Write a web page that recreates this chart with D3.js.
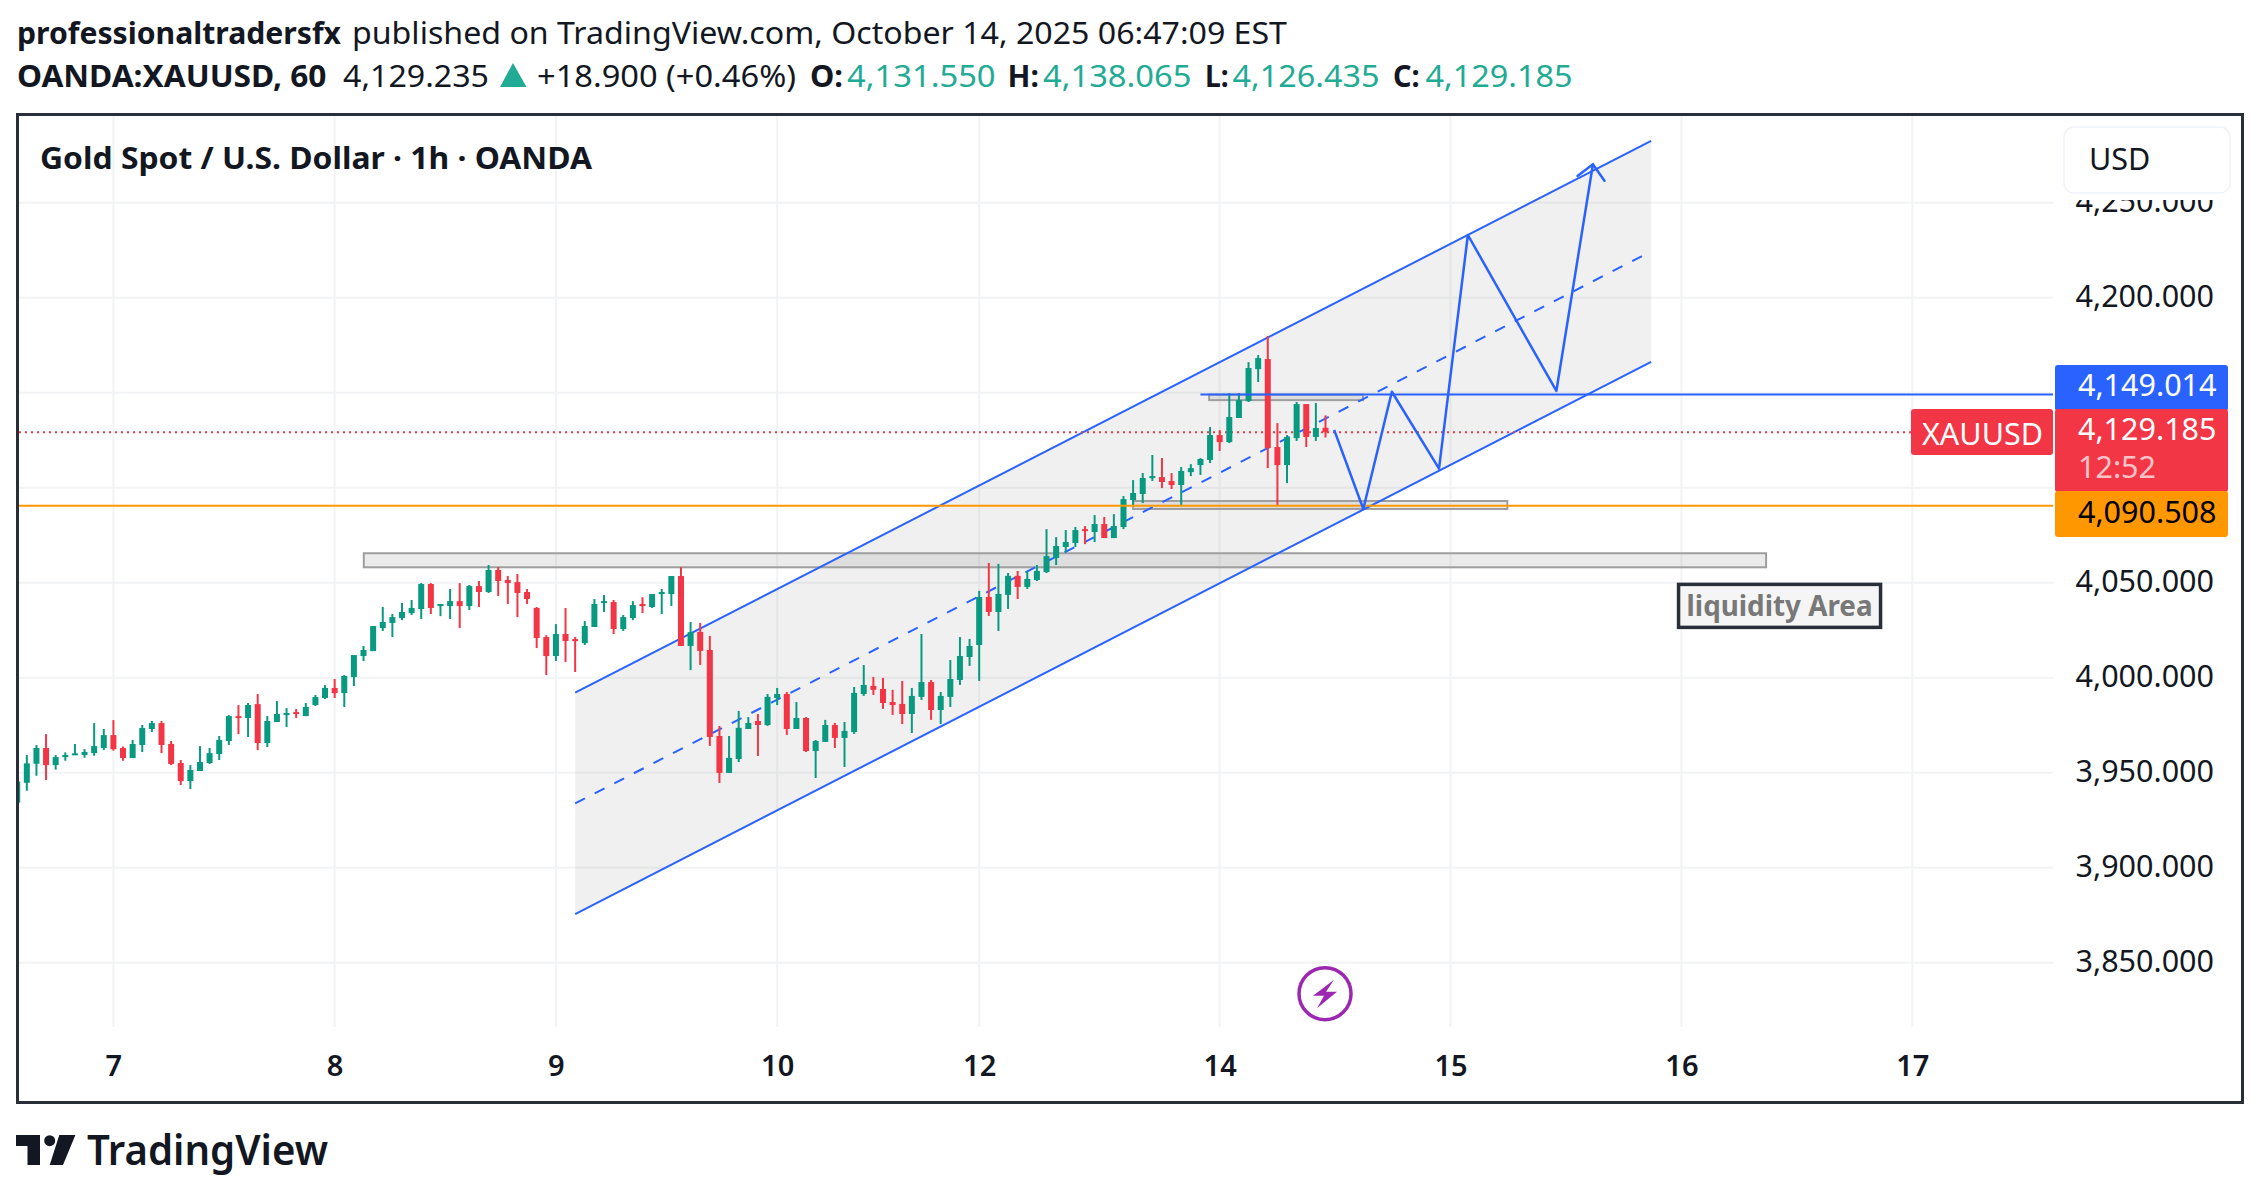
<!doctype html>
<html>
<head>
<meta charset="utf-8">
<title>XAUUSD</title>
<style>
    html, body { margin: 0; padding: 0; background: #fff; }
    svg { display: block; }
    text { font-family: "Noto Sans", sans-serif; }
</style>
</head>
<body>
<div id="main"></div>
<script src="https://cdn.jsdelivr.net/npm/d3@7"></script>
<script>
// hourly candles
const opens = [3934.2,3944.7,3954.7,3963.0,3954.0,3958.2,3959.3,3959.3,3960.3,3963.0,
3969.8,3963.0,3957.7,3964.6,3973.0,3976.1,3965.1,3955.1,3945.6,3950.9,
3955.1,3959.8,3966.7,3979.8,3978.8,3986.1,3965.6,3976.7,3980.3,3981.9,
3979.8,3985.6,3989.3,3994.6,3991.9,4000.3,4011.4,4014.0,4026.1,4028.8,
4031.4,4034.0,4036.1,4049.3,4037.7,4037.7,4040.3,4037.7,4048.2,4045.1,
4056.7,4051.4,4050.3,4045.1,4036.7,4021.4,4011.4,4023.0,4020.3,4018.2,
4026.7,4039.3,4039.8,4025.6,4031.4,4038.8,4037.2,4044.0,4044.0,4053.5,
4016.7,4024.1,4014.6,3969.3,3949.9,3957.2,3973.0,3977.2,3975.1,3989.3,
3991.4,3973.0,3978.8,3961.4,3966.2,3975.1,3968.3,3971.4,3991.4,3995.7,
3994.1,3987.2,3986.2,3980.9,3989.9,3997.7,3983.0,3989.9,3998.8,4010.9,
4017.2,4042.5,4034.6,4043.6,4053.6,4047.8,4051.4,4055.6,4063.0,4068.8,
4070.9,4078.2,4076.7,4080.9,4073.5,4079.3,4093.5,4096.7,4105.1,4105.6,
4103.5,4101.4,4108.2,4111.9,4114.6,4127.7,4124.0,4136.7,4145.6,4162.4,
4167.7,4121.4,4111.9,4126.1,4144.0,4126.7,4131.55]
const highs = [3945.8,3959.3,3964.6,3970.3,3959.3,3960.7,3965.1,3962.4,3976.1,3973.0,
3977.7,3963.8,3967.2,3975.1,3977.2,3977.2,3966.7,3956.7,3954.0,3964.0,
3963.0,3969.3,3980.3,3985.6,3986.7,3991.4,3979.8,3987.7,3984.0,3983.5,
3986.7,3990.9,3996.1,3999.3,4001.4,4011.9,4016.7,4027.2,4037.2,4033.5,
4039.3,4040.9,4049.8,4049.8,4038.8,4046.7,4049.8,4048.8,4050.9,4059.3,
4058.2,4053.5,4054.6,4046.7,4037.2,4022.4,4028.2,4036.7,4021.4,4029.8,
4041.4,4043.5,4040.9,4033.0,4040.3,4042.4,4044.0,4046.7,4053.5,4058.2,
4029.3,4028.8,4022.0,3974.6,3969.3,3982.5,3979.3,3980.9,3991.4,3994.6,
3992.5,3987.2,3979.3,3967.2,3977.8,3976.2,3976.7,3995.1,4006.7,4000.4,
3999.9,3993.6,3998.3,3994.6,4023.0,3998.8,3992.5,4009.3,4021.4,4020.4,
4045.7,4060.4,4059.9,4055.1,4056.2,4056.2,4059.3,4078.2,4074.0,4077.7,
4079.3,4079.8,4085.6,4084.6,4086.1,4095.6,4104.0,4107.7,4117.2,4115.6,
4107.7,4110.9,4112.4,4115.6,4131.9,4130.3,4149.8,4149.8,4166.1,4169.8,
4179.8,4134.0,4127.7,4145.1,4144.0,4144.6,4138.065]
const lows = [3934.0,3940.5,3948.4,3946.1,3951.6,3956.3,3959.3,3957.9,3958.9,3961.9,
3961.6,3956.3,3957.7,3960.9,3971.4,3960.3,3954.0,3943.5,3941.4,3950.9,
3954.6,3956.7,3964.6,3970.3,3968.8,3961.9,3963.5,3976.7,3974.0,3978.8,
3979.8,3985.1,3988.8,3989.3,3984.6,3995.6,4008.8,4014.0,4024.6,4021.4,
4030.3,4033.0,4030.9,4033.5,4032.4,4030.9,4026.1,4035.6,4037.2,4044.6,
4043.0,4038.8,4031.9,4038.8,4015.6,4001.4,4008.8,4008.2,4003.0,4017.2,
4026.7,4034.6,4023.0,4024.6,4030.3,4034.0,4036.7,4033.5,4037.7,4016.7,
4004.0,4006.7,3964.1,3944.6,3949.9,3955.6,3973.0,3958.8,3974.6,3985.6,
3969.9,3973.0,3960.9,3947.2,3966.2,3963.0,3953.0,3970.4,3990.4,3990.9,
3983.6,3980.4,3975.6,3970.9,3988.3,3977.8,3975.6,3984.6,3996.2,4006.2,
3998.3,4032.5,4024.6,4036.2,4041.4,4046.7,4050.9,4055.1,4059.3,4066.1,
4068.8,4070.3,4071.4,4073.5,4073.5,4078.2,4090.9,4091.9,4103.5,4099.8,
4099.3,4090.9,4106.1,4106.7,4113.0,4119.3,4123.5,4136.7,4145.1,4155.6,
4110.3,4090.3,4102.4,4124.6,4121.4,4124.6,4126.435]
const closes = [3945.3,3954.9,3963.0,3954.0,3958.2,3959.3,3960.2,3960.9,3964.0,3969.8,
3962.4,3957.7,3965.1,3973.5,3976.1,3964.6,3954.6,3945.6,3951.4,3955.6,
3960.3,3967.2,3979.8,3978.8,3985.6,3965.6,3977.2,3980.9,3981.4,3980.9,
3984.6,3989.8,3994.6,3991.9,4000.9,4011.9,4014.6,4027.2,4029.3,4031.9,
4034.6,4036.7,4049.3,4036.7,4038.8,4040.3,4037.7,4048.2,4045.1,4056.7,
4050.9,4049.8,4044.6,4041.4,4020.9,4011.4,4023.0,4019.3,4019.3,4027.2,
4038.8,4040.3,4025.6,4031.9,4038.2,4037.7,4044.0,4045.1,4053.5,4016.7,
4024.0,4014.1,3968.8,3949.9,3957.8,3973.6,3976.2,3975.1,3989.9,3991.4,
3973.0,3978.8,3961.4,3966.7,3975.1,3968.3,3972.0,3992.0,3996.2,3993.6,
3986.7,3985.6,3980.9,3990.4,3997.7,3983.0,3990.4,3999.3,4011.4,4016.7,
4042.5,4034.6,4044.1,4053.6,4047.8,4052.0,4056.2,4064.0,4069.3,4071.4,
4077.7,4077.2,4080.9,4073.5,4079.8,4094.0,4097.2,4105.1,4106.1,4103.0,
4101.4,4108.8,4110.3,4115.1,4127.7,4124.0,4137.2,4146.1,4163.0,4168.2,
4120.9,4111.9,4126.7,4144.0,4126.7,4131.4,4129.185]

const priceGrid = [4250, 4200, 4150, 4100, 4050, 4000, 3950, 3900, 3850]
// 4,150 and 4,100 sit behind the badges in the picture, so they get no label
const priceLabels = [4250, 4200, 4050, 4000, 3950, 3900, 3850]
const dayBars = [10, 33, 56, 79, 100, 125, 149, 173, 197]
const dayLabels = ["7", "8", "9", "10", "12", "14", "15", "16", "17"]

// drawings, as bar number and price
const channelBars = [58, 169.85]
const channelTop = [3992.1, 4282.5]
const channelMid = [3933.85, 4224.35]
const channelBottom = [3875.6, 4166.2]
const zigzagBars = [136.9, 139.93, 142.9, 147.8, 150.8, 160.0, 163.8]
const zigzagPrices = [4130.4, 4088.8, 4150.5, 4110.0, 4233.0, 4150.9, 4270.2]
const arrowBars = [162.2, 163.8, 165.0]
const arrowPrices = [4264.0, 4270.2, 4261.6]
const zoneBars = [[36.03, 181.8], [116, 154.9], [123.9, 139.9]]
const zonePrices = [[4065.5, 4058.1], [4093.0, 4088.8], [4149.0, 4146.1]]
const blueLevel = 4149.014
const orangeLevel = 4090.508
const lastClose = 4129.185
const blueStartBar = 123

const W = 2261, H = 1199
const plotL = 19, plotR = 2053, plotT = 116, plotB = 1027
const green = "#089981", red = "#f23645", blue = "#2962ff", orange = "#ff9800", ink = "#131722", teal = "#22ab94"

const svg = d3.select("#main").append("svg").attr("width", W).attr("height", H)
const x = d3.scaleLinear().domain([0, 136]).range([17.2, 1325.5])
const y = d3.scaleLinear().domain([3850, 4200]).range([962.7, 297.7])

svg.append("clipPath").attr("id", "plot").append("rect")
    .attr("x", plotL).attr("y", plotT).attr("width", plotR - plotL).attr("height", plotB - plotT)

const plot = svg.append("g").attr("clip-path", "url(#plot)")

// grid
plot.selectAll(".hgrid").data(priceGrid).enter().append("line")
    .attr("x1", plotL).attr("x2", plotR).attr("y1", d => y(d)).attr("y2", d => y(d))
    .attr("stroke", "#f2f3f4").attr("stroke-width", 2)
plot.selectAll(".vgrid").data(dayBars).enter().append("line")
    .attr("x1", d => x(d)).attr("x2", d => x(d)).attr("y1", plotT).attr("y2", plotB)
    .attr("stroke", "#f2f3f4").attr("stroke-width", 2)

// channel shading and rails
const rail = d3.line().x((d, i) => x(channelBars[i])).y(d => y(d))
plot.append("path")
    .attr("d", d3.area().x((d, i) => x(channelBars[i])).y0((d, i) => y(channelBottom[i])).y1(d => y(d))(channelTop))
    .attr("fill", "#787878").attr("fill-opacity", 0.11)

// grey zones
zoneBars.forEach((b, i) => {
    plot.append("rect")
        .attr("x", x(b[0])).attr("width", x(b[1]) - x(b[0]))
        .attr("y", y(zonePrices[i][0])).attr("height", y(zonePrices[i][1]) - y(zonePrices[i][0]))
        .attr("fill", "#787878").attr("fill-opacity", 0.15)
        .attr("stroke", "#9e9e9e").attr("stroke-width", 2)
})

plot.append("path").attr("d", rail(channelTop)).attr("fill", "none").attr("stroke", blue).attr("stroke-width", 2)
plot.append("path").attr("d", rail(channelBottom)).attr("fill", "none").attr("stroke", blue).attr("stroke-width", 2)
plot.append("path").attr("d", rail(channelMid)).attr("fill", "none").attr("stroke", blue).attr("stroke-width", 2)
    .attr("stroke-dasharray", "11,11")

// last price line
plot.append("line").attr("x1", plotL).attr("x2", plotR).attr("y1", y(lastClose)).attr("y2", y(lastClose))
    .attr("stroke", red).attr("stroke-width", 2).attr("stroke-dasharray", "2,4")

// candles
const bars = d3.range(opens.length)
plot.selectAll(".wick").data(bars).enter().append("line")
    .attr("x1", i => x(i)).attr("x2", i => x(i))
    .attr("y1", i => y(highs[i])).attr("y2", i => y(lows[i]))
    .attr("stroke", i => closes[i] >= opens[i] ? green : red).attr("stroke-width", 2)
plot.selectAll(".body").data(bars).enter().append("rect")
    .attr("x", i => x(i) - 3).attr("width", 6)
    .attr("y", i => y(Math.max(opens[i], closes[i])))
    .attr("height", i => Math.max(2, Math.abs(y(opens[i]) - y(closes[i]))))
    .attr("fill", i => closes[i] >= opens[i] ? green : red)

// levels
plot.append("line").attr("x1", plotL).attr("x2", plotR).attr("y1", y(orangeLevel)).attr("y2", y(orangeLevel))
    .attr("stroke", orange).attr("stroke-width", 2)
plot.append("line").attr("x1", x(blueStartBar)).attr("x2", plotR).attr("y1", y(blueLevel)).attr("y2", y(blueLevel))
    .attr("stroke", blue).attr("stroke-width", 2)

// projected path
const pathLine = d3.line().x(d => x(d[0])).y(d => y(d[1]))
plot.append("path").attr("d", pathLine(d3.zip(zigzagBars, zigzagPrices)))
    .attr("fill", "none").attr("stroke", blue).attr("stroke-width", 2.5).attr("stroke-linejoin", "round")
plot.append("path").attr("d", pathLine(d3.zip(arrowBars, arrowPrices)))
    .attr("fill", "none").attr("stroke", blue).attr("stroke-width", 2.5).attr("stroke-linecap", "round")

// liquidity label
const noteX = x(183.2), noteY = y(4037.8)
plot.append("rect").attr("x", noteX - 101).attr("y", noteY - 21.5).attr("width", 202).attr("height", 43)
    .attr("fill", "#f5f5f5").attr("stroke", "#2a2e39").attr("stroke-width", 3.5)
plot.append("text").attr("x", noteX).attr("y", noteY + 10.5).attr("text-anchor", "middle")
    .attr("font-size", 28).attr("font-weight", 700).attr("fill", "#787878")
    .attr("textLength", 186).attr("lengthAdjust", "spacingAndGlyphs").text("liquidity Area")

// dividends style marker under the last bar
const mark = plot.append("g").attr("transform", `translate(${x(135.95)},${y(3833.7)})`)
mark.append("circle").attr("r", 26).attr("fill", "#fff").attr("stroke", "#9c27b0").attr("stroke-width", 3.5)
mark.append("path").attr("d", "M9,-14L-12,2L-1,2L-8,14.5L12,-2L1,-2Z").attr("fill", "#9c27b0")

// axes
const priceAxis = d3.axisRight(y).tickValues(priceLabels).tickSize(0).tickFormat(d3.format(",.3f"))
const pg = svg.append("g").attr("transform", "translate(2214,0)").call(priceAxis)
pg.select(".domain").remove()
pg.selectAll("text").attr("x", 0).attr("dy", "0.28em").attr("text-anchor", "end")
    .attr("font-size", 30.5).attr("fill", ink).attr("font-family", "Roboto, sans-serif")

const timeAxis = d3.axisBottom(x).tickValues(dayBars).tickSize(0).tickFormat((d, i) => dayLabels[i])
const tg = svg.append("g").attr("transform", "translate(0,1052)").call(timeAxis)
tg.select(".domain").remove()
tg.selectAll("text").attr("y", 0).attr("dy", "24").attr("text-anchor", "middle")
    .attr("font-size", 29).attr("font-weight", 600).attr("fill", ink).attr("font-family", "Noto Sans, sans-serif")

// price badges
function badge(x0, y0, w, h, fill) {
    svg.append("rect").attr("x", x0).attr("y", y0).attr("width", w).attr("height", h).attr("rx", 3).attr("fill", fill)
}
function roboto(tx, ty, str, fill, opacity) {
    svg.append("text").attr("x", tx).attr("y", ty).attr("font-size", 30.5).attr("fill", fill)
        .attr("font-family", "Roboto, sans-serif").attr("opacity", opacity || 1).text(str)
}
// the currency button hides the top of the 4,250 label
svg.append("rect").attr("x", 2056).attr("y", 120).attr("width", 182).attr("height", 80).attr("fill", "#fff")
svg.append("rect").attr("x", 2064).attr("y", 127).attr("width", 166).attr("height", 66).attr("rx", 10)
    .attr("fill", "#fff").attr("stroke", "#f0f3fa").attr("stroke-width", 1.5)
roboto(2089, 170, "USD", ink)
badge(2055, 365, 173, 46, blue)
badge(2055, 409, 173, 83, red)
badge(2055, 491, 173, 46, orange)
badge(1911, 409, 142, 46, red)
roboto(2078, 396, d3.format(",.3f")(blueLevel), "#fff")
roboto(2078, 440, d3.format(",.3f")(lastClose), "#fff")
roboto(2078, 478, "12:52", "#fff", 0.7)
roboto(2078, 522.5, d3.format(",.3f")(orangeLevel), "#000")
roboto(1922, 445, "XAUUSD", "#fff")

// frame
svg.append("rect").attr("x", 17.5).attr("y", 114.5).attr("width", 2225).attr("height", 988)
    .attr("fill", "none").attr("stroke", "#2a2e39").attr("stroke-width", 3)

// header, stretched to the widths of the original font
function head(tx, ty, str, weight, len, fill) {
    svg.append("text").attr("x", tx).attr("y", ty).attr("font-size", 31).attr("font-weight", weight)
        .attr("fill", fill || ink).attr("textLength", len).attr("lengthAdjust", "spacingAndGlyphs").text(str)
}
head(17, 43.5, "professionaltradersfx", 700, 324)
head(352, 43.5, "published on TradingView.com, October 14, 2025 06:47:09 EST", 400, 935)
head(17, 87, "OANDA:XAUUSD, 60", 700, 309.5)
head(343, 87, "4,129.235", 400, 146)
svg.append("path").attr("d", "M513,63L526.5,87L500,87Z").attr("fill", teal)
head(537, 87, "+18.900 (+0.46%)", 400, 259)
head(810, 87, "O:", 700, 33); head(847, 87, "4,131.550", 400, 148.6, teal)
head(1007.6, 87, "H:", 700, 31.4); head(1043, 87, "4,138.065", 400, 148.4, teal)
head(1205, 87, "L:", 700, 23.7); head(1232.5, 87, "4,126.435", 400, 147, teal)
head(1393, 87, "C:", 700, 26.6); head(1425.6, 87, "4,129.185", 400, 147, teal)
head(40, 169, "Gold Spot / U.S. Dollar · 1h · OANDA", 700, 552)

// logo
svg.append("path").attr("d", "M16,1135H40V1165H27.5V1146H16Z").attr("fill", ink)
svg.append("circle").attr("cx", 49.7).attr("cy", 1140.7).attr("r", 5.5).attr("fill", ink)
svg.append("path").attr("d", "M59.3,1135H75.4L63,1165H49.7Z").attr("fill", ink)
svg.append("text").attr("x", 87).attr("y", 1165).attr("font-size", 41).attr("font-weight", 600)
    .attr("font-family", "Inter, sans-serif").attr("fill", ink)
    .attr("textLength", 241).attr("lengthAdjust", "spacingAndGlyphs").text("TradingView")
</script>
</body>
</html>
